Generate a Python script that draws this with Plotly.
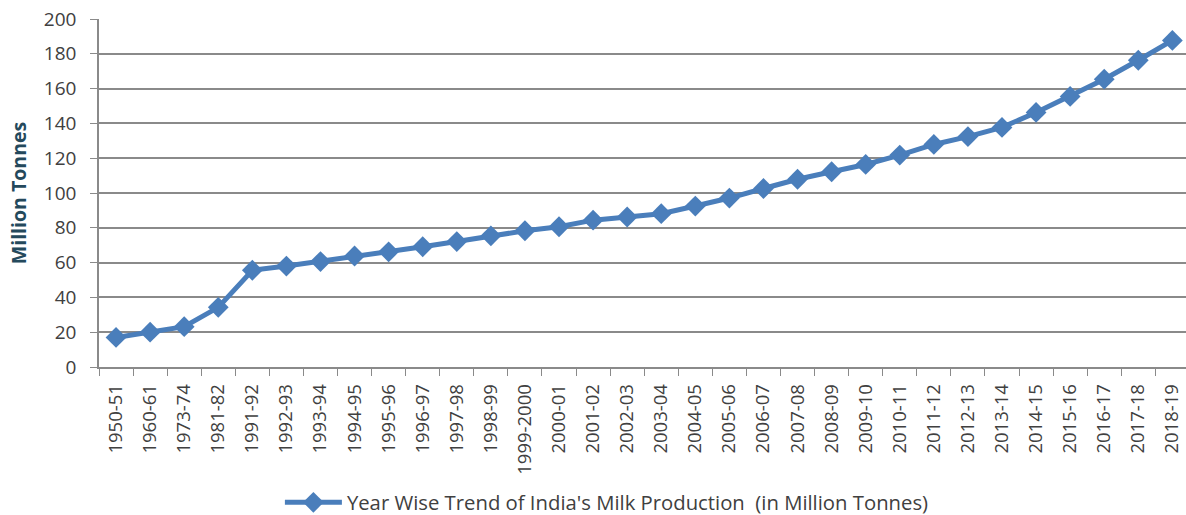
import plotly.graph_objects as go

years = ["1950-51", "1960-61", "1973-74", "1981-82", "1991-92", "1992-93", "1993-94",
         "1994-95", "1995-96", "1996-97", "1997-98", "1998-99", "1999-2000", "2000-01",
         "2001-02", "2002-03", "2003-04", "2004-05", "2005-06", "2006-07", "2007-08",
         "2008-09", "2009-10", "2010-11", "2011-12", "2012-13", "2013-14", "2014-15",
         "2015-16", "2016-17", "2017-18", "2018-19"]
production = [17.0, 20.0, 23.2, 34.3, 55.6, 58.0, 60.6, 63.8, 66.2, 69.1, 72.1, 75.4,
              78.3, 80.6, 84.4, 86.2, 88.1, 92.5, 97.1, 102.6, 107.9, 112.2, 116.4,
              121.8, 127.9, 132.4, 137.7, 146.3, 155.5, 165.4, 176.3, 187.7]
y_ticks = [0, 20, 40, 60, 80, 100, 120, 140, 160, 180, 200]

font_family = "Open Sans, Liberation Sans, sans-serif"
blue = "#4A7EBB"
grid = "#8A8A8A"

fig = go.Figure()
fig.add_trace(go.Scatter(
    x=years, y=production, mode="lines+markers",
    name="Year Wise Trend of India's Milk Production  (in Million Tonnes)",
    line=dict(color=blue, width=5),
    marker=dict(symbol="diamond", size=16, color=blue, line=dict(width=0)),
))

n = len(years)
fig.update_layout(
    width=1186, height=515,
    margin=dict(l=99, r=0, t=19, b=148),
    paper_bgcolor="white", plot_bgcolor="white",
    font=dict(family=font_family, color="#404040", size=16),
    showlegend=True,
    legend=dict(orientation="h", xref="container", yref="container",
                x=0.236, xanchor="left", y=0.024, yanchor="middle",
                itemwidth=57,
                font=dict(size=20.3, color="#404040")),
    xaxis=dict(
        type="category", tickangle=-90, tickfont=dict(size=18.5),
        showline=True, linecolor=grid, linewidth=1.5,
        ticks="outside", tickson="boundaries", ticklen=7, tickcolor=grid,
        ticklabelstandoff=8,
        showgrid=False, range=[-0.5, n - 0.5 - 0.1], automargin=False,
    ),
    yaxis=dict(
        range=[0, 200], tickvals=y_ticks, tickfont=dict(size=19),
        showline=True, linecolor=grid, linewidth=1.5,
        ticks="outside", ticklen=7, tickcolor=grid,
        ticklabelstandoff=10,
        gridcolor=grid, gridwidth=1.5, zeroline=False, automargin=False,
        title=dict(text="<b>Million Tonnes</b>", font=dict(size=19.5, color="#24495C"), standoff=12),
    ),
)

fig.write_html("out.html")
